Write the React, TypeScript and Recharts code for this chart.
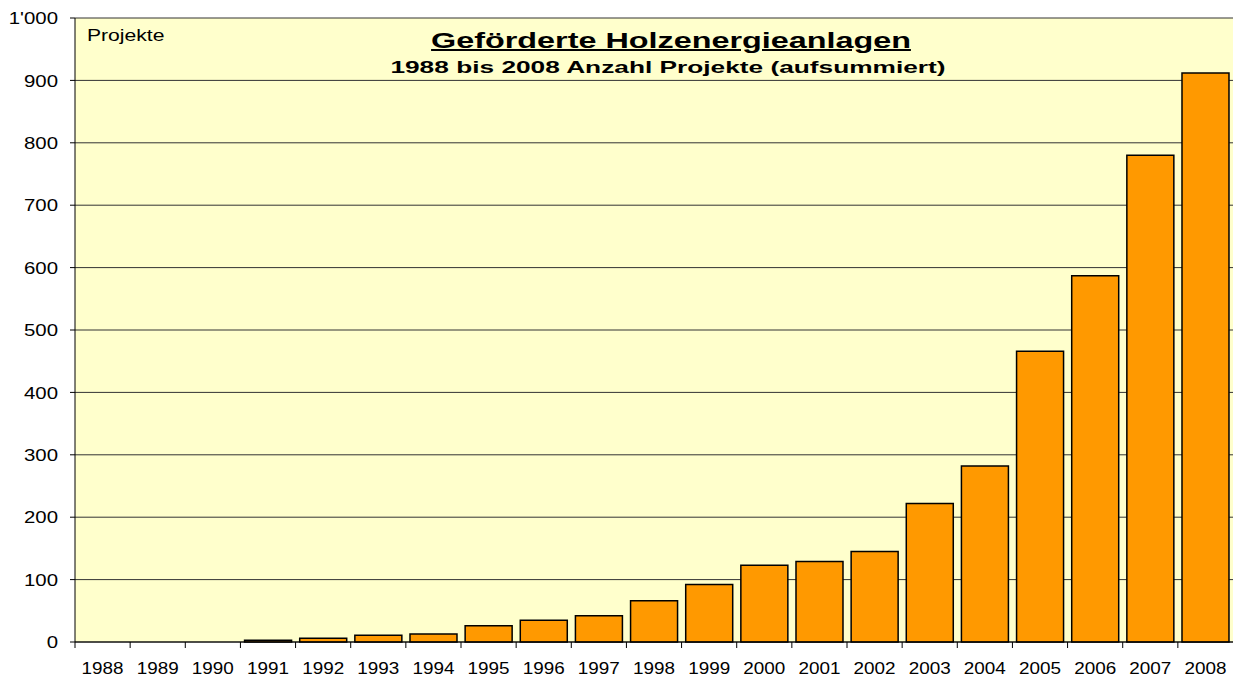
import React from "react";
import { BarChart, Bar, XAxis, YAxis, CartesianGrid } from "recharts";

const years = ["1988","1989","1990","1991","1992","1993","1994","1995","1996","1997","1998","1999","2000","2001","2002","2003","2004","2005","2006","2007","2008"];
const projekte = [0, 0, 0, 3, 6, 11, 13, 26, 35, 42, 66, 92, 123, 129, 145, 222, 282, 466, 587, 780, 912];
const yTicks = [0, 100, 200, 300, 400, 500, 600, 700, 800, 900, 1000];

const data = years.map((y, i) => ({ year: y, value: projekte[i] }));

const FONT = "'Liberation Sans', Arial, sans-serif";
const W = 1234;
const H = 678;
const LEFT = 75;
const RIGHT = 1;
const BAND = (W - LEFT - RIGHT) / years.length;

const XTick = (props: any) => {
  const { x, y, payload } = props;
  const bx = x - BAND / 2;
  return (
    <g>
      <line x1={bx} y1={y} x2={bx} y2={y + 6} stroke="#000" strokeWidth={1} />
      <text transform={`translate(${x},${y + 32}) scale(1.18,1)`} textAnchor="middle" fontFamily={FONT} fontSize={16} fill="#000">
        {payload.value}
      </text>
    </g>
  );
};

const YTick = (props: any) => {
  const { x, y, payload } = props;
  const label = payload.value === 1000 ? "1'000" : String(payload.value);
  return (
    <text transform={`translate(${x},${y}) scale(1.2,1)`} textAnchor="end" dy="0.36em" fontFamily={FONT} fontSize={17} fill="#000">
      {label}
    </text>
  );
};

export default function App() {
  return (
    <div style={{ position: "absolute", left: 0, top: 0, width: W, height: H, background: "#fff", fontFamily: FONT }}>
      <BarChart width={W} height={H} data={data} margin={{ top: 18, right: RIGHT, left: 0, bottom: 0 }} barCategoryGap="7.5%">
        <CartesianGrid vertical={false} horizontal={true} stroke="#333" strokeWidth={1} fill="#FFFFCC" fillOpacity={1} />
        <XAxis dataKey="year" height={36} tickLine={false} tickSize={0} tickMargin={0} axisLine={{ stroke: "#000" }} tick={<XTick />} interval={0} />
        <YAxis
          width={LEFT}
          domain={[0, 1000]}
          ticks={yTicks}
          interval={0}
          tick={<YTick />}
          tickLine={{ stroke: "#000" }}
          tickSize={5}
          tickMargin={12}
          axisLine={{ stroke: "#000" }}
        />
        <YAxis yAxisId="r" orientation="right" width={0} tick={false} tickLine={false} axisLine={{ stroke: "#888" }} domain={[0, 1000]} />
        <Bar dataKey="value" fill="#FF9900" stroke="#000" strokeWidth={1.5} isAnimationActive={false} />
      </BarChart>
      <div style={{ position: "absolute", left: 87, top: 27.5, fontSize: 16, lineHeight: "16px", color: "#000", transform: "scaleX(1.32)", transformOrigin: "left center", whiteSpace: "nowrap" }}>Projekte</div>
      <div style={{ position: "absolute", left: 371, width: 600, top: 29.7, fontSize: 22, lineHeight: "22px", textAlign: "center", fontWeight: "bold", textDecoration: "underline", textDecorationThickness: "2px", color: "#000", transform: "scaleX(1.47)", transformOrigin: "center", whiteSpace: "nowrap" }}>
        Geförderte Holzenergieanlagen
      </div>
      <div style={{ position: "absolute", left: 368, width: 600, top: 58.6, fontSize: 17, lineHeight: "17px", textAlign: "center", fontWeight: "bold", color: "#000", transform: "scaleX(1.545)", transformOrigin: "center", whiteSpace: "nowrap" }}>
        1988 bis 2008 Anzahl Projekte (aufsummiert)
      </div>
    </div>
  );
}
